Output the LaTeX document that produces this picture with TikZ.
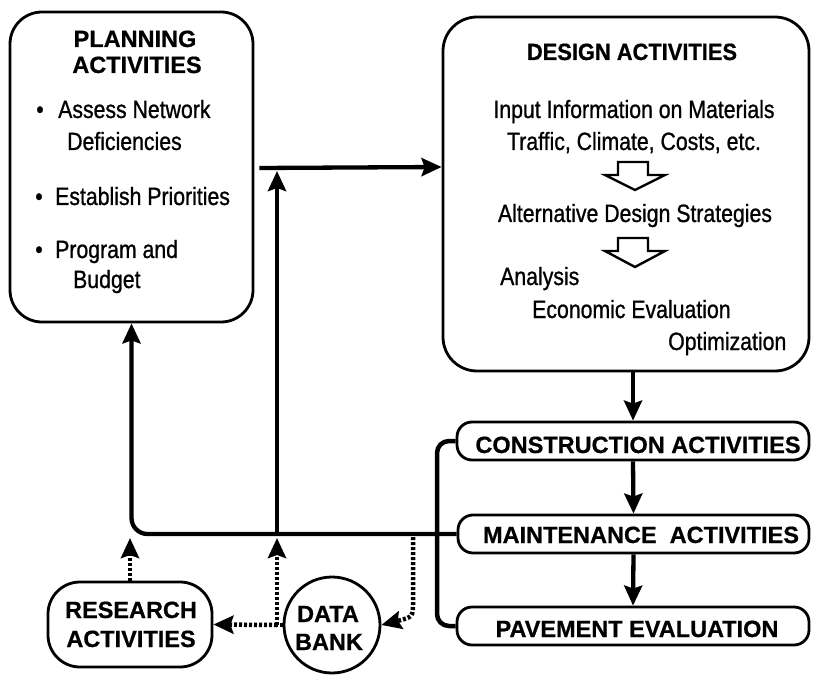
\documentclass[tikz,border=0pt]{standalone}
\usepackage{fontspec}
\setmainfont{Liberation Sans}
\newfontfamily\narrowfont[FakeStretch=0.85,FakeBold=0.9]{Liberation Sans}
\newfontfamily\narrowbold[FakeStretch=0.93,FakeBold=0.7]{Liberation Sans Bold}
\newfontfamily\heavybold[FakeBold=0.7]{Liberation Sans Bold}
\usetikzlibrary{arrows.meta}
\begin{document}
\begin{tikzpicture}[x=1pt,y=-1pt,
  boxA/.style={draw,line width=2.8pt,inner sep=0pt,rounded corners=#1},
  conn/.style={line width=4.3pt},
  tip/.style={-{Stealth[length=20pt,width=18pt,inset=3pt]}},
  dotline/.style={line width=4.5pt,dash pattern=on 3pt off 2pt},
  ttl/.style={font=\heavybold\fontsize{23.5}{26}\selectfont,anchor=base,inner sep=0pt},
  txt/.style={font=\narrowfont\fontsize{25}{28}\selectfont,inner sep=0pt},
  hollow/.style={draw,line width=2.4pt,line join=miter,fill=white}]
\useasboundingbox (0,0) rectangle (813,676);

% boxes
\node[boxA=32pt,minimum width=243pt,minimum height=310pt] (plan) at (131.5,167) {};
\node[boxA=34pt,minimum width=366pt,minimum height=354pt] (design) at (626,194) {};
\node[boxA=15pt,minimum width=352pt,minimum height=38pt] (constr) at (633,441) {};
\node[boxA=15pt,minimum width=351pt,minimum height=38pt] (maint) at (633.5,534) {};
\node[boxA=15pt,minimum width=352pt,minimum height=38pt] (pav) at (633,626) {};
\node[boxA=32pt,minimum width=164pt,minimum height=85pt] (research) at (130,624.5) {};
\node[draw,line width=2.8pt,circle,minimum size=96pt,inner sep=0pt] (db) at (332,625) {};

% planning text
\node[ttl] (p1) at (135,47) {PLANNING};
\node[ttl] (p2) at (137,73) {ACTIVITIES};
\node[txt,anchor=base] (b1) at (40,118) {•};
\node[txt,anchor=base west] (t1) at (58,118) {Assess Network};
\node[txt,anchor=base west] (t2) at (67,150) {Deficiencies};
\node[txt,anchor=base] (b2) at (39,205) {•};
\node[txt,anchor=base west] (t3) at (55,205) {Establish Priorities};
\node[txt,anchor=base] (b3) at (39,258) {•};
\node[txt,anchor=base west] (t4) at (55,258) {Program and};
\node[txt,anchor=base west] (t5) at (73,288) {Budget};

% design text
\node[ttl,font=\narrowbold\fontsize{23.5}{26}\selectfont] (d1) at (632,60) {DESIGN ACTIVITIES};
\node[txt,anchor=base] (d2) at (634,118) {Input Information on Materials};
\node[txt,anchor=base] (d3) at (634,150) {Traffic, Climate, Costs, etc.};
\node[txt,anchor=base] (d4) at (635,222) {Alternative Design Strategies};
\node[txt,anchor=base west] (d5) at (500,285) {Analysis};
\node[txt,anchor=base west] (d6) at (532,318) {Economic Evaluation};
\node[txt,anchor=base west] (d7) at (668,350) {Optimization};

% hollow arrows
\draw[hollow] (618,162) -- (648,162) -- (648,175) -- (665,175) -- (635,190) -- (605,175) -- (618,175) -- cycle;
\draw[hollow] (618,238) -- (648,238) -- (648,251) -- (665,251) -- (635,267) -- (605,251) -- (618,251) -- cycle;

% lower boxes text
\node[ttl] (c1) at (638,453) {CONSTRUCTION ACTIVITIES};
\node[ttl] (m1) at (641,543) {MAINTENANCE\ \ ACTIVITIES};
\node[ttl] (v1) at (637,637) {PAVEMENT EVALUATION};
\node[ttl] (r1) at (131,618) {RESEARCH};
\node[ttl] (r2) at (131,647) {ACTIVITIES};
\node[ttl] (k1) at (328,622) {DATA};
\node[ttl] (k2) at (329,650) {BANK};

% solid connectors
\draw[conn,tip] ([xshift=5pt,yshift=-1pt]plan.east) -- (plan.east -| design.west);
\coordinate (vb) at (277,533);
\coordinate (vt) at (277,171);
\draw[conn,tip] (vb) -- (vt);
\draw[conn,tip,rounded corners=16pt] (maint.west) -| (plan.south);
\draw[conn,tip] (design.south -| constr.north) -- (constr.north);
\draw[conn,tip] (constr.south) -- (maint.north);
\draw[conn,tip] (maint.south) -- (pav.north);
\draw[line width=4.5pt,rounded corners=12pt] (constr.west) -- (437,441) -- (437,626) -- (pav.west);

% dotted connectors
\coordinate (rt) at (130,538);
\draw[dotline,tip] (research.north) -- (rt);
\coordinate (dj) at (277,625);
\coordinate (du) at (277,538);
\draw[dotline] (db.west) -- (dj);
\draw[dotline,tip] (dj) -- (du);
\draw[dotline,tip] (dj) -- (research.east);
\coordinate (ds) at (413,537);
\draw[dotline,tip] (ds) -- (413,602) .. controls (413,617) .. (db.east);
\end{tikzpicture}
\end{document}
